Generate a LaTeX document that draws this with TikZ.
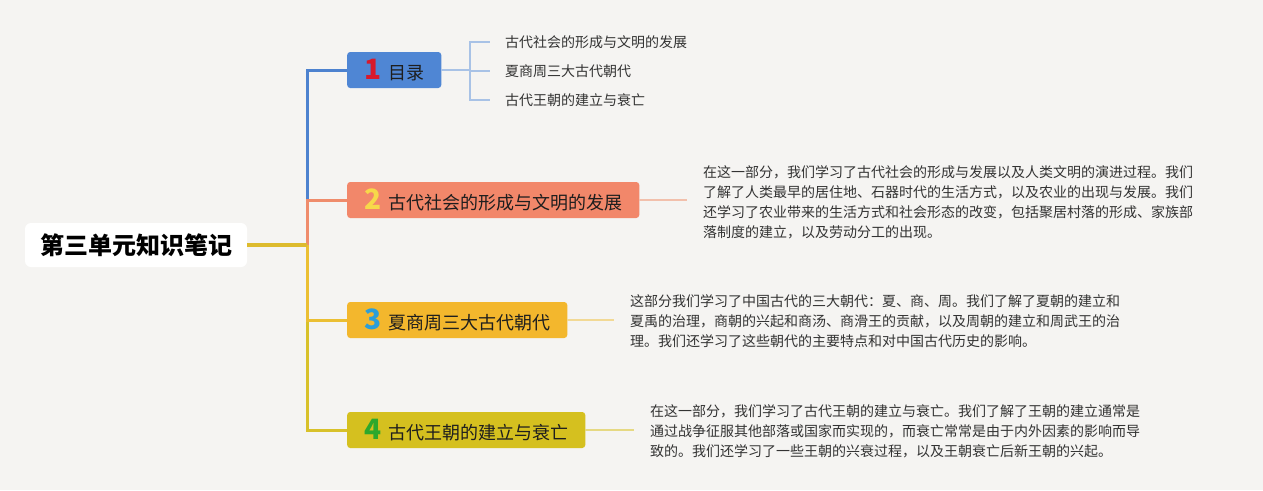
\documentclass[tikz,border=0pt]{standalone}
\usepackage{fontspec}
\setmainfont{Noto Sans CJK SC}
\definecolor{bgcol}{HTML}{F5F4F2}
\definecolor{rootline}{HTML}{DDBB2E}
\definecolor{boxblue}{HTML}{4F86D4}
\definecolor{boxorange}{HTML}{F2876A}
\definecolor{boxyellow}{HTML}{F3B72D}
\definecolor{boxolive}{HTML}{D5C01F}
\definecolor{lineblue}{HTML}{4D82CF}
\definecolor{lineorange}{HTML}{EF8C6C}
\definecolor{lineyellow}{HTML}{EBBF33}
\definecolor{lineolive}{HTML}{D8C12A}
\definecolor{subblue}{HTML}{A8C2E6}
\definecolor{suborange}{HTML}{F2C0AC}
\definecolor{subyellow}{HTML}{F2D995}
\definecolor{subolive}{HTML}{E6D983}
\definecolor{numred}{HTML}{D8192B}
\definecolor{numyellow}{HTML}{F7D84A}
\definecolor{numblue}{HTML}{2C9ED9}
\definecolor{numgreen}{HTML}{2DA82C}
\definecolor{textdark}{HTML}{1E1E1E}
\definecolor{textgrey}{HTML}{333333}
\newcommand{\topicnum}[2]{{\fontsize{28pt}{28pt}\selectfont\bfseries\color{#1}#2}\hspace{7pt}}

\begin{document}
\begin{tikzpicture}[x=1pt,y=-1pt,
  rootbox/.style={fill=white,rounded corners=6pt,minimum width=222pt,minimum height=44pt,
    inner sep=0pt,text=black,font=\fontsize{24pt}{24pt}\selectfont\bfseries},
  topic/.style={anchor=west,rounded corners=3pt,inner xsep=17pt,inner ysep=0pt,
    minimum height=36pt,text=textdark,font=\fontsize{18pt}{18pt}\selectfont},
  para/.style={anchor=west,align=left,inner sep=0pt,text=textgrey,
    font=\fontsize{14pt}{20pt}\selectfont},
  item/.style={anchor=west,inner sep=0pt,text=textgrey,font=\fontsize{14pt}{14pt}\selectfont},
  branch/.style={line width=3pt},
  sub/.style={line width=1.5pt}]
\fill[bgcol] (0,0) rectangle (1263,490);
\node[rootbox] (root) at (136,245) {第三单元知识笔记};
\coordinate (j) at (307,245);
\node[topic,fill=boxblue] (b1) at (347,70) {\topicnum{numred}{1}目录};
\node[topic,fill=boxorange] (b2) at (347,200) {\topicnum{numyellow}{2}古代社会的形成与文明的发展};
\node[topic,fill=boxyellow] (b3) at (347,320) {\topicnum{numblue}{3}夏商周三大古代朝代};
\node[topic,fill=boxolive] (b4) at (347,430) {\topicnum{numgreen}{4}古代王朝的建立与衰亡};
\coordinate (k) at (470,70);
\node[item] (t11) at (505,42) {古代社会的形成与文明的发展};
\node[item] (t12) at (505,71) {夏商周三大古代朝代};
\node[item] (t13) at (505,100) {古代王朝的建立与衰亡};
\node[para] (d2) at (703,202) {在这一部分，我们学习了古代社会的形成与发展以及人类文明的演进过程。我们\\
了解了人类最早的居住地、石器时代的生活方式，以及农业的出现与发展。我们\\
还学习了农业带来的生活方式和社会形态的改变，包括聚居村落的形成、家族部\\
落制度的建立，以及劳动分工的出现。};
\node[para] (d3) at (630,321) {这部分我们学习了中国古代的三大朝代：夏、商、周。我们了解了夏朝的建立和\\
夏禹的治理，商朝的兴起和商汤、商滑王的贡献，以及周朝的建立和周武王的治\\
理。我们还学习了这些朝代的主要特点和对中国古代历史的影响。};
\node[para] (d4) at (650,431) {在这一部分，我们学习了古代王朝的建立与衰亡。我们了解了王朝的建立通常是\\
通过战争征服其他部落或国家而实现的，而衰亡常常是由于内外因素的影响而导\\
致的。我们还学习了一些王朝的兴衰过程，以及王朝衰亡后新王朝的兴起。};
\draw[branch,lineblue] (j) |- (b1.west);
\draw[branch,lineorange] (j) |- (b2.west);
\draw[branch,lineolive] (j) |- (b4.west);
\draw[branch,lineyellow] (j) |- (b3.west);
\draw[line width=4pt,rootline] (root.east) -- (j);
\draw[sub,subblue] (b1.east) -- (k);
\foreach \n in {t11,t12,t13}
  \draw[sub,subblue,shorten >=15pt] (k) |- (\n.west);
\draw[sub,suborange,shorten >=16pt] (b2.east) -- (b2.east -| d2.west);
\draw[sub,subyellow,shorten >=16pt] (b3.east) -- (b3.east -| d3.west);
\draw[sub,subolive,shorten >=16pt] (b4.east) -- (b4.east -| d4.west);
\end{tikzpicture}
\end{document}
